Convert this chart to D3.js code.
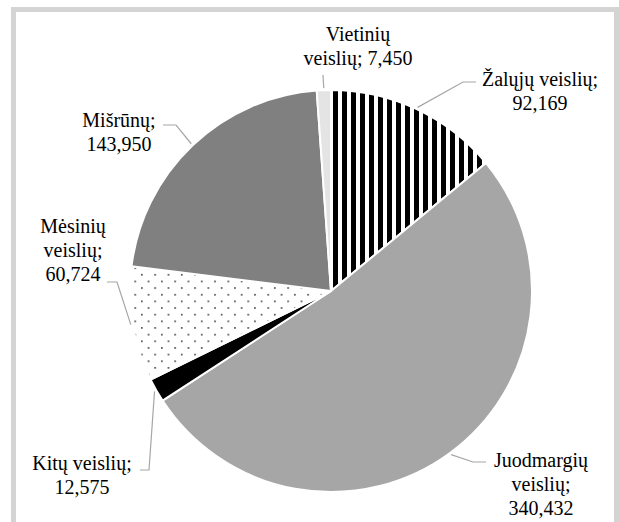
<!DOCTYPE html>
<html>
<head>
<meta charset="utf-8">
<script src="https://cdn.jsdelivr.net/npm/d3@7"></script>
<style>
  body { margin: 0; background: #fff; }
  text { font-family: "Liberation Serif", "Times New Roman", serif; font-size: 20px; fill: #000; }
</style>
</head>
<body>
<div id="chart"></div>
<script>
// data (clockwise from 12 o'clock)
var categories = ["Žalųjų veislių", "Juodmargių veislių", "Kitų veislių", "Mėsinių veislių", "Mišrūnų", "Vietinių veislių"];
var values = [92169, 340432, 12575, 60724, 143950, 7450];
// label lines as they are wrapped in the picture
var labelLines = [
  ["Žalųjų veislių;", "92,169"],
  ["Juodmargių", "veislių;", "340,432"],
  ["Kitų veislių;", "12,575"],
  ["Mėsinių", "veislių;", "60,724"],
  ["Mišrūnų;", "143,950"],
  ["Vietinių", "veislių; 7,450"]
];

var width = 619, height = 522;
var cx = 331, cy = 291, radius = 201;

var svg = d3.select("#chart").append("svg")
   .attr("width", width)
   .attr("height", height);

// Patterns for the striped and dotted slices
var defs = svg.append("defs");
var stripes = defs.append("pattern")
   .attr("id", "stripes")
   .attr("patternUnits", "userSpaceOnUse")
   .attr("x", 2).attr("y", 0)
   .attr("width", 9).attr("height", 9);
stripes.append("rect").attr("width", 9).attr("height", 9).attr("fill", "#fff");
stripes.append("rect").attr("width", 5).attr("height", 9).attr("fill", "#000");

var dots = defs.append("pattern")
   .attr("id", "dots")
   .attr("patternUnits", "userSpaceOnUse")
   .attr("width", 13.3).attr("height", 13.3);
dots.append("rect").attr("width", 13.3).attr("height", 13.3).attr("fill", "#fff");
dots.append("rect").attr("x", 3).attr("y", 3).attr("width", 1.5).attr("height", 1.5).attr("fill", "#222");
dots.append("rect").attr("x", 9.6).attr("y", 9.6).attr("width", 1.5).attr("height", 1.5).attr("fill", "#222");

var fills = ["url(#stripes)", "#a6a6a6", "#000000", "url(#dots)", "#808080", "#e4e4e4"];

// outer frame
svg.append("rect")
   .attr("x", 13.5).attr("y", 9.5)
   .attr("width", 603).attr("height", 530)
   .attr("fill", "none")
   .attr("stroke", "#d4d4d4")
   .attr("stroke-width", 5);

var pie = d3.pie().sort(null).value(function(d) { return d; });
var arcs = pie(values);
var arc = d3.arc().innerRadius(0).outerRadius(radius);

var g = svg.append("g").attr("transform", "translate(" + cx + "," + cy + ")");

g.selectAll("path.slice")
   .data(arcs)
   .enter()
   .append("path")
   .attr("class", "slice")
   .attr("d", arc)
   .attr("fill", function(d, i) { return fills[i]; })
   .attr("stroke", "#fff")
   .attr("stroke-width", 2)
   .attr("stroke-linejoin", "round");

// label anchors (text centre x, first baseline) and leader elbows
var labelPos = [
  {x: 540, y: 86, elbow: [[463, 82], [476, 82]]},
  {x: 541, y: 467, elbow: [[473, 462], [486, 462]]},
  {x: 82, y: 470, elbow: [[149, 470], [140, 470]]},
  {x: 73, y: 233, elbow: [[117, 282], [107, 282]]},
  {x: 119, y: 127, elbow: [[176, 125], [163, 125]]},
  {x: 358, y: 41, elbow: [[323, 75]]}
];

var lineHeight = 24;

// leader lines from the slice edge to the label
g.selectAll("path.leader")
   .data(arcs)
   .enter()
   .append("path")
   .attr("class", "leader")
   .attr("fill", "none")
   .attr("stroke", "#a6a6a6")
   .attr("stroke-width", 1.2)
   .attr("d", function(d, i) {
      var mid = (d.startAngle + d.endAngle) / 2;
      var px = Math.sin(mid) * (radius + 2);
      var py = -Math.cos(mid) * (radius + 2);
      var pts = [[px, py]].concat(labelPos[i].elbow.map(function(p) { return [p[0] - cx, p[1] - cy]; }));
      return d3.line()(pts);
   });

var labels = svg.selectAll("text.label")
   .data(categories)
   .enter()
   .append("text")
   .attr("class", "label")
   .attr("text-anchor", "middle");

labels.each(function(d, i) {
   var t = d3.select(this);
   labelLines[i].forEach(function(line, j) {
      t.append("tspan")
         .attr("x", labelPos[i].x)
         .attr("y", labelPos[i].y + j * lineHeight)
         .text(line);
   });
});
</script>
</body>
</html>
